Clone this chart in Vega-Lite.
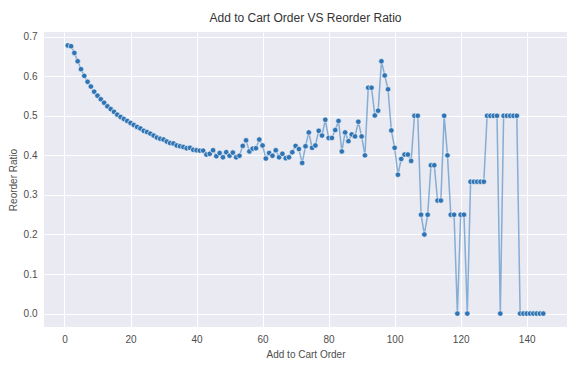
{
  "$schema": "https://vega.github.io/schema/vega-lite/v6.json",
  "width": 523,
  "height": 295,
  "autosize": {"type": "none"},
  "padding": {"left": 44, "top": 32, "right": 12, "bottom": 41},
  "background": "white",
  "title": {"text": "Add to Cart Order VS Reorder Ratio", "font": "Liberation Sans", "fontSize": 12, "fontWeight": "normal", "color": "#333333", "offset": 7},
  "data": {"values": [
    {"order": 1, "ratio": 0.678}, {"order": 2, "ratio": 0.676}, {"order": 3, "ratio": 0.659}, {"order": 4, "ratio": 0.638},
    {"order": 5, "ratio": 0.618}, {"order": 6, "ratio": 0.601}, {"order": 7, "ratio": 0.586}, {"order": 8, "ratio": 0.574},
    {"order": 9, "ratio": 0.561}, {"order": 10, "ratio": 0.551}, {"order": 11, "ratio": 0.542}, {"order": 12, "ratio": 0.533},
    {"order": 13, "ratio": 0.524}, {"order": 14, "ratio": 0.517}, {"order": 15, "ratio": 0.510}, {"order": 16, "ratio": 0.503},
    {"order": 17, "ratio": 0.497}, {"order": 18, "ratio": 0.492}, {"order": 19, "ratio": 0.487}, {"order": 20, "ratio": 0.482},
    {"order": 21, "ratio": 0.477}, {"order": 22, "ratio": 0.472}, {"order": 23, "ratio": 0.468}, {"order": 24, "ratio": 0.462},
    {"order": 25, "ratio": 0.459}, {"order": 26, "ratio": 0.455}, {"order": 27, "ratio": 0.450}, {"order": 28, "ratio": 0.445},
    {"order": 29, "ratio": 0.442}, {"order": 30, "ratio": 0.440}, {"order": 31, "ratio": 0.435}, {"order": 32, "ratio": 0.431},
    {"order": 33, "ratio": 0.430}, {"order": 34, "ratio": 0.425}, {"order": 35, "ratio": 0.423}, {"order": 36, "ratio": 0.421},
    {"order": 37, "ratio": 0.418}, {"order": 38, "ratio": 0.419}, {"order": 39, "ratio": 0.414}, {"order": 40, "ratio": 0.413},
    {"order": 41, "ratio": 0.412}, {"order": 42, "ratio": 0.412}, {"order": 43, "ratio": 0.402}, {"order": 44, "ratio": 0.404},
    {"order": 45, "ratio": 0.413}, {"order": 46, "ratio": 0.398}, {"order": 47, "ratio": 0.406}, {"order": 48, "ratio": 0.395},
    {"order": 49, "ratio": 0.408}, {"order": 50, "ratio": 0.399}, {"order": 51, "ratio": 0.407}, {"order": 52, "ratio": 0.395},
    {"order": 53, "ratio": 0.399}, {"order": 54, "ratio": 0.424}, {"order": 55, "ratio": 0.438}, {"order": 56, "ratio": 0.410},
    {"order": 57, "ratio": 0.417}, {"order": 58, "ratio": 0.418}, {"order": 59, "ratio": 0.440}, {"order": 60, "ratio": 0.425},
    {"order": 61, "ratio": 0.392}, {"order": 62, "ratio": 0.406}, {"order": 63, "ratio": 0.399}, {"order": 64, "ratio": 0.413},
    {"order": 65, "ratio": 0.395}, {"order": 66, "ratio": 0.404}, {"order": 67, "ratio": 0.393}, {"order": 68, "ratio": 0.395},
    {"order": 69, "ratio": 0.408}, {"order": 70, "ratio": 0.424}, {"order": 71, "ratio": 0.416}, {"order": 72, "ratio": 0.381},
    {"order": 73, "ratio": 0.423}, {"order": 74, "ratio": 0.458}, {"order": 75, "ratio": 0.419}, {"order": 76, "ratio": 0.425},
    {"order": 77, "ratio": 0.462}, {"order": 78, "ratio": 0.450}, {"order": 79, "ratio": 0.490}, {"order": 80, "ratio": 0.444},
    {"order": 81, "ratio": 0.444}, {"order": 82, "ratio": 0.464}, {"order": 83, "ratio": 0.487}, {"order": 84, "ratio": 0.410},
    {"order": 85, "ratio": 0.458}, {"order": 86, "ratio": 0.436}, {"order": 87, "ratio": 0.453}, {"order": 88, "ratio": 0.448},
    {"order": 89, "ratio": 0.485}, {"order": 90, "ratio": 0.448}, {"order": 91, "ratio": 0.400}, {"order": 92, "ratio": 0.571},
    {"order": 93, "ratio": 0.571}, {"order": 94, "ratio": 0.501}, {"order": 95, "ratio": 0.513}, {"order": 96, "ratio": 0.638},
    {"order": 97, "ratio": 0.602}, {"order": 98, "ratio": 0.567}, {"order": 99, "ratio": 0.463}, {"order": 100, "ratio": 0.419},
    {"order": 101, "ratio": 0.351}, {"order": 102, "ratio": 0.391}, {"order": 103, "ratio": 0.402}, {"order": 104, "ratio": 0.402},
    {"order": 105, "ratio": 0.386}, {"order": 106, "ratio": 0.5}, {"order": 107, "ratio": 0.5}, {"order": 108, "ratio": 0.25},
    {"order": 109, "ratio": 0.2}, {"order": 110, "ratio": 0.25}, {"order": 111, "ratio": 0.375}, {"order": 112, "ratio": 0.375},
    {"order": 113, "ratio": 0.2857}, {"order": 114, "ratio": 0.2857}, {"order": 115, "ratio": 0.5}, {"order": 116, "ratio": 0.4},
    {"order": 117, "ratio": 0.25}, {"order": 118, "ratio": 0.25}, {"order": 119, "ratio": 0.0}, {"order": 120, "ratio": 0.25},
    {"order": 121, "ratio": 0.25}, {"order": 122, "ratio": 0.0}, {"order": 123, "ratio": 0.3333}, {"order": 124, "ratio": 0.3333},
    {"order": 125, "ratio": 0.3333}, {"order": 126, "ratio": 0.3333}, {"order": 127, "ratio": 0.3333}, {"order": 128, "ratio": 0.5},
    {"order": 129, "ratio": 0.5}, {"order": 130, "ratio": 0.5}, {"order": 131, "ratio": 0.5}, {"order": 132, "ratio": 0.0},
    {"order": 133, "ratio": 0.5}, {"order": 134, "ratio": 0.5}, {"order": 135, "ratio": 0.5}, {"order": 136, "ratio": 0.5},
    {"order": 137, "ratio": 0.5}, {"order": 138, "ratio": 0.0}, {"order": 139, "ratio": 0.0}, {"order": 140, "ratio": 0.0},
    {"order": 141, "ratio": 0.0}, {"order": 142, "ratio": 0.0}, {"order": 143, "ratio": 0.0}, {"order": 144, "ratio": 0.0},
    {"order": 145, "ratio": 0.0}
  ]},
  "encoding": {
    "x": {"field": "order", "type": "quantitative", "title": "Add to Cart Order",
      "scale": {"domain": [-6.2, 152.2], "nice": false, "zero": false},
      "axis": {"values": [0, 20, 40, 60, 80, 100, 120, 140], "format": "d"}},
    "y": {"field": "ratio", "type": "quantitative", "title": "Reorder Ratio",
      "scale": {"domain": [-0.0339, 0.7119], "nice": false, "zero": false},
      "axis": {"values": [0, 0.1, 0.2, 0.3, 0.4, 0.5, 0.6, 0.7], "format": ".1f"}}
  },
  "layer": [
    {"mark": {"type": "line", "color": "#5b93c8", "strokeWidth": 1.5, "opacity": 0.7}},
    {"mark": {"type": "point", "filled": true, "color": "#3074b3", "size": 30, "opacity": 1, "stroke": "white", "strokeWidth": 0.6}}
  ],
  "config": {
    "view": {"fill": "#EAEAF2", "stroke": null},
    "font": "Liberation Sans",
    "axis": {
      "domain": false, "ticks": false, "grid": true, "gridColor": "white", "gridWidth": 1,
      "labelFont": "Liberation Sans", "labelFontSize": 10, "labelColor": "#4d4d4d",
      "titleFont": "Liberation Sans", "titleFontSize": 10, "titleFontWeight": "normal", "titleColor": "#4d4d4d",
      "labelPadding": 7
    },
    "axisX": {"titlePadding": 5},
    "axisY": {"titlePadding": 5}
  }
}
